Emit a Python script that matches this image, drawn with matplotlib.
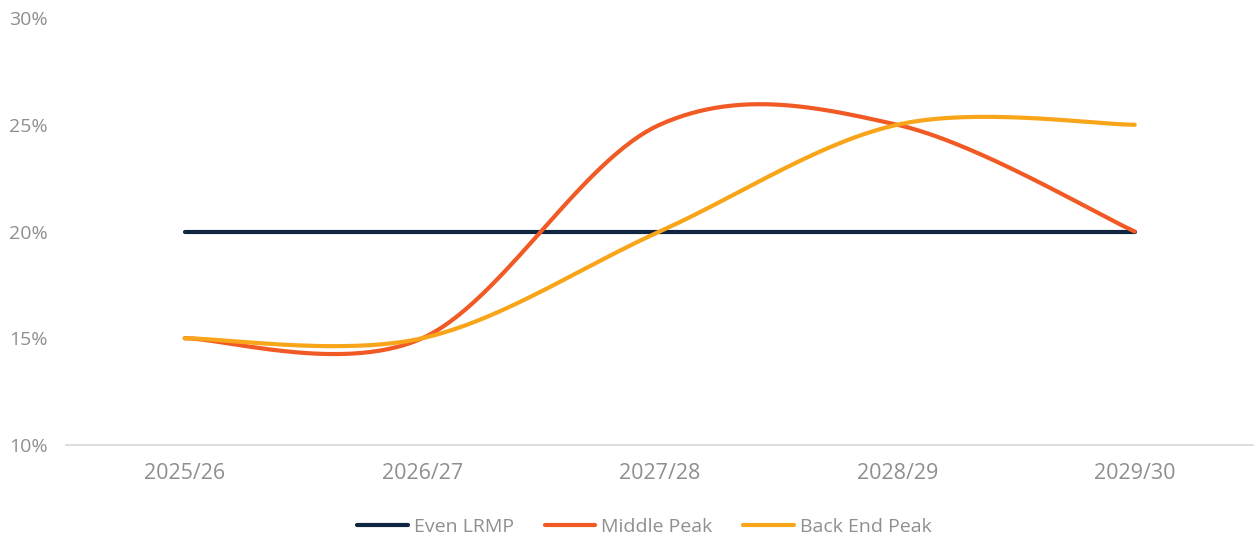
import numpy as np
import matplotlib
matplotlib.use("Agg")
import matplotlib.pyplot as plt
from matplotlib.ticker import FuncFormatter

categories = ["2025/26", "2026/27", "2027/28", "2028/29", "2029/30"]
even_lrmp = [20, 20, 20, 20, 20]
middle_peak = [15, 15, 25, 25, 20]
back_end_peak = [15, 15, 20, 25, 25]

series = [
    ("Even LRMP", even_lrmp, "#0F2541"),
    ("Middle Peak", middle_peak, "#F15A24"),
    ("Back End Peak", back_end_peak, "#F9A51A"),
]

def smooth(xs, ys, n=60):
    # Excel-like smoothing: cubic Bezier with Catmull-Rom control points
    P = np.column_stack([xs, ys]).astype(float)
    m = len(P)
    out = []
    for i in range(m - 1):
        p0 = P[i - 1] if i > 0 else P[i]
        p1 = P[i]
        p2 = P[i + 1]
        p3 = P[i + 2] if i + 2 < m else P[i + 1]
        c1 = p1 + (p2 - p0) / 6.0
        c2 = p2 - (p3 - p1) / 6.0
        t = np.linspace(0, 1, n)[:, None]
        seg = ((1 - t) ** 3) * p1 + 3 * ((1 - t) ** 2) * t * c1 + 3 * (1 - t) * t ** 2 * c2 + t ** 3 * p2
        if i > 0:
            seg = seg[1:]
        out.append(seg)
    out = np.vstack(out)
    return out[:, 0], out[:, 1]

plt.rcParams['font.family'] = ['Open Sans', 'DejaVu Sans']
fig = plt.figure(figsize=(12.56, 5.37), dpi=100)
ax = fig.add_axes([0.0525, 0.1713, 0.9455, 0.7952])

x = np.arange(len(categories))
for name, vals, col in series:
    sx, sy = smooth(x, vals)
    ax.plot(sx, sy, color=col, lw=3.0, label=name, solid_capstyle='round')

ax.set_xlim(-0.5, len(categories) - 0.5)
ax.set_ylim(10, 30)
ax.set_yticks([10, 15, 20, 25, 30])
ax.yaxis.set_major_formatter(FuncFormatter(lambda v, p: f"{int(v)}%"))
ax.set_xticks(x)
ax.set_xticklabels(categories)

grey = "#8F8F8F"
for s in ["top", "right", "left"]:
    ax.spines[s].set_visible(False)
ax.spines["bottom"].set_color("#D9D9D9")
ax.spines["bottom"].set_linewidth(1.2)
ax.tick_params(axis="both", length=0, colors=grey)
ax.tick_params(axis="x", pad=13, labelsize=15.5)
ax.tick_params(axis="y", pad=13, labelsize=14)

leg = fig.legend(loc="center", bbox_to_anchor=(0.513, 0.019), ncol=3, frameon=False,
                 fontsize=14, handlelength=2.6, handletextpad=0.3, columnspacing=1.6)
for t in leg.get_texts():
    t.set_color(grey)

fig.savefig("out.png", dpi=100)
